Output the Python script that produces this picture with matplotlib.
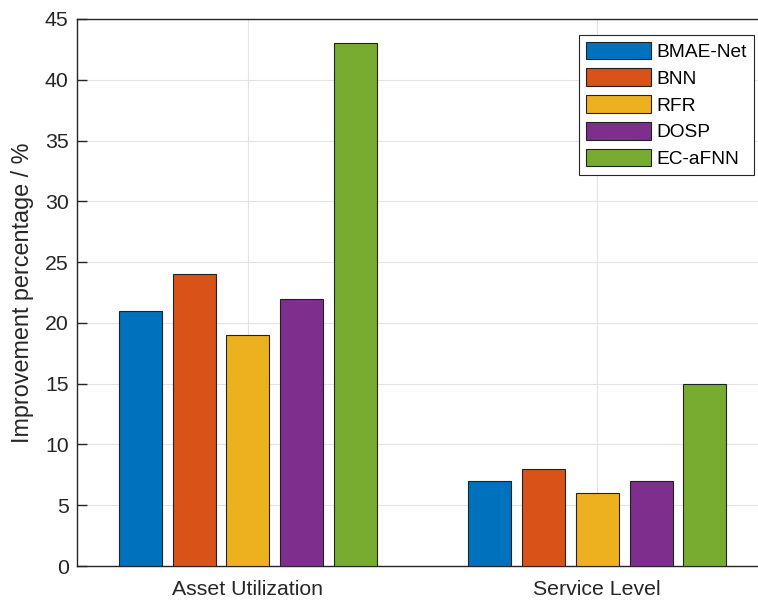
import matplotlib.pyplot as plt
import numpy as np

categories = ['Asset Utilization', 'Service Level']
methods = ['BMAE-Net', 'BNN', 'RFR', 'DOSP', 'EC-aFNN']
bmae_net = [21, 7]
bnn = [24, 8]
rfr = [19, 6]
dosp = [22, 7]
ec_afnn = [43, 15]

series = [bmae_net, bnn, rfr, dosp, ec_afnn]
colors = ['#0072BD', '#D95319', '#EDB120', '#7E2F8E', '#77AC30']

plt.rcParams['font.family'] = ['Liberation Sans', 'DejaVu Sans']

fig = plt.figure(figsize=(7.58, 6.01), dpi=100)
# axes box runs past the right edge of the picture, as in the source figure
ax = fig.add_axes([77 / 758, 1 - 566 / 601, (772 - 77) / 758, (566 - 19) / 601])

x = np.arange(1, len(categories) + 1)
n = len(series)
group_w = min(0.8, n / (n + 1.5))
step = group_w / n
bar_w = step * 0.8
for i, (vals, c, name) in enumerate(zip(series, colors, methods)):
    offs = (i - (n - 1) / 2) * step
    ax.bar(x + offs, vals, width=bar_w, color=c, edgecolor='#222222',
           linewidth=0.8, label=name, zorder=3)

ax.set_xlim(0.511, 2.5)
ax.set_ylim(0, 45)
ax.set_yticks(np.arange(0, 46, 5))
ax.set_xticks(x)
ax.set_xticklabels(categories)
ax.set_ylabel('Improvement percentage / %', fontsize=16.8, color='#262626')
ax.yaxis.set_label_coords(-0.062, 0.5)

ax.grid(True, color='#e3e3e3', linewidth=0.8, zorder=0)
ax.set_axisbelow(True)
ax.tick_params(direction='in', length=7, width=1, labelsize=15.3,
               colors='#262626', top=False, right=False)
ax.tick_params(axis='x', pad=10)
ax.tick_params(axis='y', pad=6)
for s in ax.spines.values():
    s.set_color('#262626')
    s.set_linewidth(1)

leg = ax.legend(loc='upper left', bbox_to_anchor=((579 - 77) / 695, 1 - (35 - 19) / 547),
                fontsize=13.8, fancybox=False, edgecolor='#262626', framealpha=1,
                handlelength=3.4, handleheight=1.05, handletextpad=0.3,
                borderpad=0.35, labelspacing=0.38, borderaxespad=0)
leg.get_frame().set_linewidth(0.8)

fig.savefig('out.png', dpi=100)
